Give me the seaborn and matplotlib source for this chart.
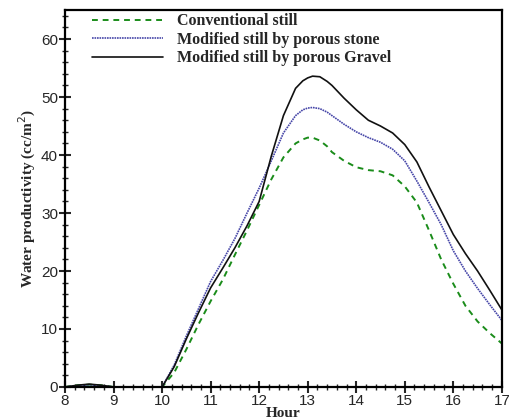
import numpy as np
import pandas as pd
import matplotlib
matplotlib.use("Agg")
import matplotlib.pyplot as plt
import seaborn as sns
from matplotlib.ticker import MultipleLocator

# Readings taken off the reference curves
hours = [8, 8.25, 8.5, 8.75, 9, 9.5, 10, 10.25, 10.5, 10.75, 11, 11.25, 11.5, 11.75,
         12, 12.25, 12.5, 12.75, 12.9, 13, 13.1, 13.25, 13.4, 13.5, 13.75, 14, 14.25,
         14.5, 14.75, 15, 15.25, 15.5, 15.75, 16, 16.25, 16.5, 16.75, 17]
conventional = [0, 0.3, 0.4, 0.3, 0, 0, 0, 2.5, 6.5, 10.8, 14.8, 18.5, 22.8, 27.0,
                31.4, 35.8, 39.6, 42.0, 42.7, 43.0, 43.0, 42.5, 41.5, 40.5, 39.0, 37.9, 37.4,
                37.2, 36.5, 34.6, 31.8, 27.0, 22.0, 17.8, 14.0, 11.3, 9.3, 7.5]
stone = [0, 0.2, 0.4, 0.2, 0, 0, 0, 3.8, 8.8, 13.5, 18.2, 21.8, 25.6, 30.0,
         34.3, 39.0, 43.8, 46.8, 47.8, 48.1, 48.2, 48.0, 47.4, 46.8, 45.3, 44.0, 43.0,
         42.2, 41.0, 39.0, 35.5, 31.8, 28.0, 23.5, 20.0, 17.0, 14.2, 11.5]
gravel = [0, 0.3, 0.5, 0.3, 0, 0, 0, 3.5, 8.3, 12.8, 17.1, 20.5, 24.0, 27.8,
          32.0, 39.8, 46.8, 51.5, 52.8, 53.3, 53.6, 53.5, 52.7, 52.0, 49.8, 47.8, 46.0,
          45.0, 43.8, 41.8, 38.8, 34.5, 30.4, 26.3, 23.0, 20.0, 16.7, 13.3]

labels = ["Conventional still", "Modified still by porous stone", "Modified still by porous Gravel"]

sns.set_style("ticks")
fig = plt.figure(figsize=(5.1, 4.19), dpi=100)
ax = fig.add_axes([0.1275, 0.0764, 0.8565, 0.8996])

sns.lineplot(x=hours, y=conventional, ax=ax, color="#1a8c1a", linestyle=(0, (3, 2.5)),
             linewidth=1.4, label=labels[0])
sns.lineplot(x=hours, y=stone, ax=ax, color="#4646a8", linestyle=(0, (1, 0.5)),
             linewidth=1.2, label=labels[1])
sns.lineplot(x=hours, y=gravel, ax=ax, color="#111111", linewidth=1.2, label=labels[2])

ax.set_xlim(8, 17)
ax.set_ylim(0, 65)
ax.xaxis.set_major_locator(MultipleLocator(1))
ax.xaxis.set_minor_locator(MultipleLocator(0.2))
ax.yaxis.set_major_locator(MultipleLocator(10))
ax.yaxis.set_minor_locator(MultipleLocator(2))
ax.tick_params(which="major", direction="inout", length=8, width=1.5,
               labelsize=11, top=False, right=False, pad=1)
ax.tick_params(which="minor", direction="inout", length=4, width=1,
               top=False, right=False)
for lab in ax.get_xticklabels() + ax.get_yticklabels():
    lab.set_family("Liberation Sans")
for s in ax.spines.values():
    s.set_linewidth(1.6)
    s.set_color("black")

serif_bold = {"family": "Liberation Serif", "weight": "bold", "size": 11}
ax.set_xlabel("Hour", fontdict=serif_bold, labelpad=-1)
ax.set_ylabel("Water productivity (cc/m$^2$)", fontdict=serif_bold, labelpad=2)

leg = ax.legend(loc="upper left", bbox_to_anchor=(0.047, 1.008), frameon=False,
                borderaxespad=0, handlelength=4.45, handletextpad=0.87, labelspacing=0.15,
                prop={"family": "Liberation Serif", "weight": "bold", "size": 11.5})

fig.savefig("out.png", dpi=100)
